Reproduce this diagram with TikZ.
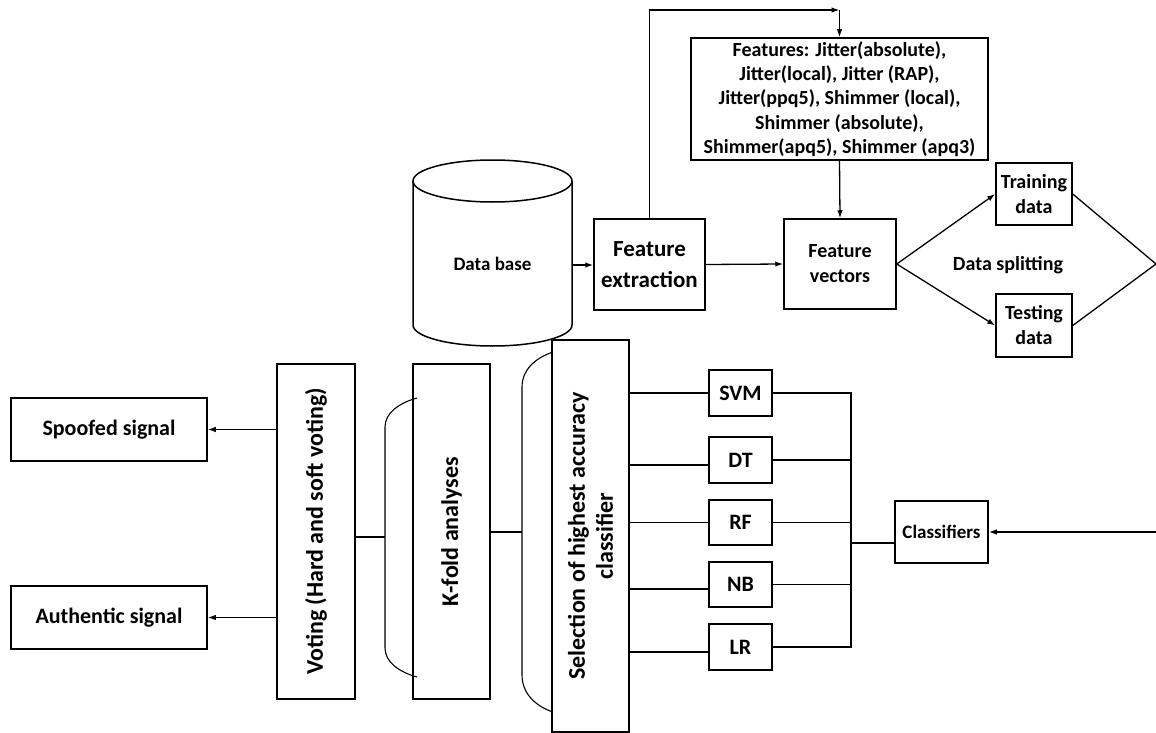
\documentclass[tikz,border=0pt]{standalone}
\usepackage{fontspec}
\setmainfont{Carlito}
\usetikzlibrary{arrows.meta}
\tikzset{
  box/.style={draw, line width=1.5pt, inner sep=0pt, align=center, font=\bfseries\fontsize{20}{25}\selectfont},
  conn/.style={line width=1.3pt},
  arr/.style={conn, -{Latex[length=8pt,width=5.5pt]}},
  rottext/.style={rotate=90, align=center, font=\bfseries\fontsize{24}{28}\selectfont},
}
\begin{document}
\begin{tikzpicture}[x=1pt,y=-1pt]
\useasboundingbox (0,0) rectangle (1156,733);
% database cylinder
\draw[line width=1.5pt] (492.5,181) ellipse [x radius=79.5, y radius=21];
\draw[line width=1.5pt] (413,181) -- (413,325) .. controls (413,336.6) and (448.6,346) .. (492.5,346)
  .. controls (536.4,346) and (572,336.6) .. (572,325) -- (572,181);
\node[font=\bfseries\fontsize{19}{23}\selectfont] (db) at (492.5,264) {Data base};
\coordinate (dbE) at (572,265);

\node[box, minimum width=297, minimum height=122, font=\bfseries\fontsize{20}{24.3}\selectfont] (feat) at (839.5,99)
 {Features: Jitter(absolute),\\ Jitter(local), Jitter (RAP),\\ Jitter(ppq5), Shimmer (local),\\ Shimmer (absolute),\\ Shimmer(apq5), Shimmer (apq3)};
\node[box, minimum width=111, minimum height=91, font=\bfseries\fontsize{23}{31}\selectfont] (fe) at (649.5,264.5) {Feature\\extraction};
\node[box, minimum width=112, minimum height=90] (fv) at (840,264) {Feature\\vectors};
\node[box, minimum width=76, minimum height=62] (train) at (1034,194) {Training\\data};
\node[box, minimum width=76, minimum height=63] (test) at (1034,325.5) {Testing\\data};
\node[font=\bfseries\fontsize{20}{24}\selectfont] (split) at (1008,265) {Data splitting};
\coordinate (rsplit) at (1156,264);
\coordinate (corner) at (839.5,10);

\draw[arr] (dbE) -- (fe.west |- dbE);
\draw[arr] (fe.north) |- (corner);
\draw[arr] (corner) -- (feat.north);
\draw[arr] (fe.east) -- (fv.west);
\draw[arr] (feat.south) -- (fv.north);
\draw[arr] (fv.east) -- (train.west);
\draw[arr] (fv.east) -- (test.west);
\draw[conn] (train.east) -- (rsplit);
\draw[conn] (test.east) -- (rsplit);

% bottom part
\node[box, minimum width=196, minimum height=63, font=\bfseries\fontsize{22}{26}\selectfont] (spoof) at (109,429.5) {Spoofed signal};
\node[box, minimum width=196, minimum height=63, font=\bfseries\fontsize{22}{26}\selectfont] (auth) at (109,617.5) {Authentic signal};
\node[box, minimum width=78, minimum height=335] (vote) at (316,531.5) {};
\node[rottext] (votet) at (vote) {Voting (Hard and soft voting)};
\node[box, minimum width=77, minimum height=335] (kfold) at (451.5,531.5) {};
\node[rottext] (kfoldt) at (kfold) {K-fold analyses};
\node[box, minimum width=77, minimum height=392] (sel) at (590.5,536) {};
\node[rottext] (selt) at (sel) {Selection of highest accuracy\\classifier};

\node[box, minimum width=63, minimum height=46, font=\bfseries\fontsize{22}{26}\selectfont] (svm) at (740.5,393) {SVM};
\node[box, minimum width=63, minimum height=46, font=\bfseries\fontsize{22}{26}\selectfont] (dt) at (740.5,460) {DT};
\node[box, minimum width=63, minimum height=45, font=\bfseries\fontsize{22}{26}\selectfont] (rf) at (740.5,522.5) {RF};
\node[box, minimum width=63, minimum height=45, font=\bfseries\fontsize{22}{26}\selectfont] (nb) at (740.5,584.5) {NB};
\node[box, minimum width=63, minimum height=46, font=\bfseries\fontsize{22}{26}\selectfont] (lr) at (740.5,647) {LR};
\node[box, minimum width=93, minimum height=62, font=\bfseries\fontsize{19}{23}\selectfont] (cls) at (941.5,532) {Classifiers};
\coordinate (bus) at (851,543);
\coordinate (rin) at (1156,532);

\draw[arr] (vote.west |- spoof.east) -- (spoof.east);
\draw[arr] (vote.west |- auth.east) -- (auth.east);

% brackets
\coordinate (kb) at (385,537);
\draw[conn, line width=1.1pt] (417,398) .. controls (399,403) and (385,413) .. (385,427) -- (385,648) .. controls (385,662) and (399,672) .. (417,677);
\draw[conn] (vote.east |- kb) -- (kb);
\coordinate (sb) at (522,532);
\draw[conn, line width=1.1pt] (553,352) .. controls (535,358) and (522,370) .. (522,387) -- (522,675) .. controls (522,693) and (535,706) .. (553,712);
\draw[conn] (kfold.east |- sb) -- (sb);

\draw[conn] (sel.east |- svm.west) -- (svm.west);
\draw[conn] ([yshift=-5pt]dt.west -| sel.east) -- ([yshift=-5pt]dt.west);
\draw[conn] (sel.east |- rf.west) -- (rf.west);
\draw[conn] ([yshift=-4.5pt]nb.west -| sel.east) -- ([yshift=-4.5pt]nb.west);
\draw[conn] ([yshift=-5pt]lr.west -| sel.east) -- ([yshift=-5pt]lr.west);

\draw[conn] (svm.east) -- (svm.east -| bus) -- (lr.east -| bus) -- (lr.east);
\draw[conn] (dt.east) -- (dt.east -| bus);
\draw[conn] (rf.east) -- (rf.east -| bus);
\draw[conn] (nb.east) -- (nb.east -| bus);
\draw[conn] (bus) -- (cls.west |- bus);
\draw[arr] (rin) -- (cls.east);
\end{tikzpicture}
\end{document}
